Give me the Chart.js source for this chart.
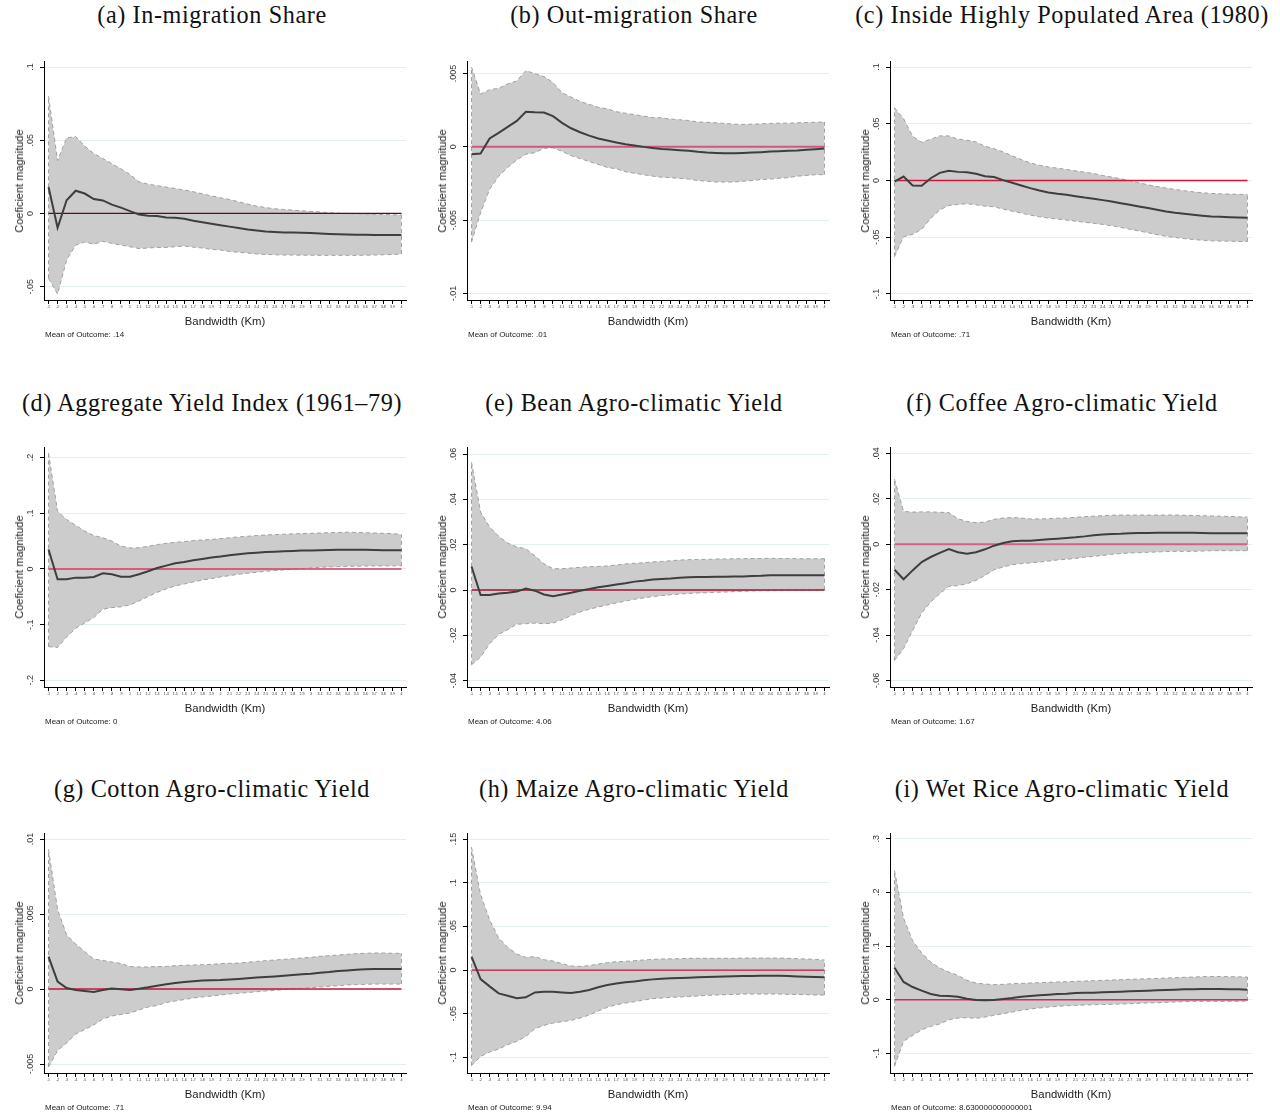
<!DOCTYPE html>
<html>
<head>
<meta charset="utf-8">
<script src="https://cdn.jsdelivr.net/npm/chart.js@4.4.1/dist/chart.umd.min.js"></script>
<style>
  html, body { margin: 0; padding: 0; background: #fff; }
  body { width: 1280px; height: 1115px; position: relative; overflow: hidden; font-family: "Liberation Sans", Arial, sans-serif; color: #000; }
  canvas { position: absolute; }
  .ttl { position: absolute; font-family: "Liberation Serif", "Times New Roman", serif; font-size: 24.2px; letter-spacing: 0.6px; white-space: nowrap; transform: translate(-50%, -50%); color: #111; }
  .xt { position: absolute; font-size: 11.3px; white-space: nowrap; transform: translate(-50%, -50%); color: #222; }
  .yt { position: absolute; font-size: 11px; white-space: nowrap; transform: translate(-50%, -50%) rotate(-90deg); color: #222; }
  .note { position: absolute; font-size: 8px; white-space: nowrap; transform: translateY(-50%); color: #222; }
</style>
</head>
<body>
<script>
// ---------------- DATA ----------------
const bandwidthLabels = ['.1','.2','.3','.4','.5','.6','.7','.8','.9','1',
  '1.1','1.2','1.3','1.4','1.5','1.6','1.7','1.8','1.9','2',
  '2.1','2.2','2.3','2.4','2.5','2.6','2.7','2.8','2.9','3',
  '3.1','3.2','3.3','3.4','3.5','3.6','3.7','3.8','3.9','4'];

const panelTitles = ['(a) In-migration Share', '(b) Out-migration Share', '(c) Inside Highly Populated Area (1980)',
  '(d) Aggregate Yield Index (1961\u201379)', '(e) Bean Agro-climatic Yield', '(f) Coffee Agro-climatic Yield',
  '(g) Cotton Agro-climatic Yield', '(h) Maize Agro-climatic Yield', '(i) Wet Rice Agro-climatic Yield'];

const outcomeMeans = ['.14', '.01', '.71', '0', '4.06', '1.67', '.71', '9.94', '8.630000000000001'];

const xAxisTitle = 'Bandwidth (Km)';
const yAxisTitle = 'Coeficient magnitude';

// (a) In-migration Share
const meanA  = [0.018,-0.0098,0.009,0.0155,0.0136,0.0098,0.0089,0.006,0.004,0.0016,-0.0007,-0.0016,-0.0018,-0.0027,-0.003,-0.0036,-0.005,-0.006,-0.007,-0.008,-0.009,-0.010,-0.011,-0.0116,-0.0123,-0.0127,-0.013,-0.013,-0.0132,-0.0134,-0.0137,-0.014,-0.0142,-0.0144,-0.0145,-0.0146,-0.0147,-0.0147,-0.0148,-0.0148];
const upperA = [0.08,0.036,0.0516,0.0525,0.046,0.041,0.0375,0.034,0.0305,0.0266,0.0216,0.020,0.019,0.018,0.017,0.016,0.0148,0.0134,0.012,0.0107,0.0095,0.008,0.0064,0.005,0.004,0.0032,0.0027,0.0023,0.0018,0.0014,0.001,0.0005,0.0002,0,-0.0002,-0.0004,-0.0006,-0.0007,-0.0009,-0.001];
const lowerA = [-0.0443,-0.055,-0.0318,-0.0216,-0.0195,-0.021,-0.019,-0.0205,-0.0216,-0.0227,-0.024,-0.0236,-0.0232,-0.0232,-0.0227,-0.0223,-0.023,-0.0236,-0.0245,-0.025,-0.026,-0.0265,-0.027,-0.0277,-0.028,-0.0282,-0.0284,-0.0284,-0.0285,-0.0285,-0.0286,-0.0286,-0.0286,-0.0286,-0.0286,-0.0285,-0.0284,-0.0282,-0.028,-0.0277];
const yTicksA = [-0.05, 0, 0.05, 0.1];
const yTickLabelsA = ['-.05', '0', '.05', '.1'];

// (b) Out-migration Share
const meanB  = [-0.0005,-0.00045,0.00057,0.00095,0.00136,0.00177,0.0024,0.00236,0.00234,0.0021,0.00164,0.00127,0.001,0.00077,0.00057,0.00043,0.0003,0.00018,0.0001,0,-0.00007,-0.00014,-0.00018,-0.00023,-0.00027,-0.00034,-0.00039,-0.00041,-0.00043,-0.00043,-0.00041,-0.00039,-0.00036,-0.00032,-0.0003,-0.00027,-0.00025,-0.0002,-0.00016,-0.00011];
const upperB = [0.00545,0.0036,0.0039,0.004,0.0043,0.0045,0.0052,0.005,0.0048,0.0044,0.0037,0.0034,0.0031,0.0029,0.0027,0.0026,0.0024,0.0023,0.0022,0.0021,0.002,0.00198,0.0019,0.00185,0.0018,0.0017,0.00168,0.00164,0.0016,0.00155,0.00153,0.00155,0.00157,0.0016,0.00162,0.00162,0.00164,0.00166,0.00168,0.0017];
const lowerB = [-0.0065,-0.0045,-0.0029,-0.002,-0.0014,-0.0009,-0.0005,-0.0004,-0.0001,-0.00007,-0.0003,-0.0006,-0.0008,-0.001,-0.0012,-0.0014,-0.0015,-0.0017,-0.0018,-0.0019,-0.002,-0.00207,-0.0021,-0.00215,-0.0022,-0.0023,-0.00234,-0.0024,-0.0024,-0.0024,-0.00234,-0.0023,-0.00223,-0.0022,-0.00214,-0.0021,-0.002,-0.00195,-0.0019,-0.0019];
const yTicksB = [-0.01, -0.005, 0, 0.005];
const yTickLabelsB = ['-.01', '-.005', '0', '.005'];

// (c) Inside Highly Populated Area (1980)
const meanC  = [-0.001,0.0035,-0.0044,-0.0047,0.002,0.0067,0.0085,0.0076,0.0073,0.006,0.0038,0.003,0.0003,-0.002,-0.0044,-0.0067,-0.0088,-0.0106,-0.0117,-0.0126,-0.0138,-0.015,-0.016,-0.0173,-0.0185,-0.02,-0.0214,-0.0229,-0.0243,-0.0258,-0.0273,-0.0284,-0.0293,-0.0302,-0.031,-0.0317,-0.032,-0.0323,-0.0326,-0.0328];
const upperC = [0.064,0.0545,0.039,0.0337,0.0364,0.0393,0.0393,0.0364,0.0355,0.034,0.0302,0.028,0.0252,0.0217,0.0185,0.0155,0.0135,0.012,0.0109,0.0097,0.0085,0.0073,0.0062,0.0044,0.003,0.0015,0,-0.002,-0.0038,-0.0053,-0.0067,-0.0079,-0.009,-0.01,-0.0108,-0.0114,-0.0117,-0.012,-0.0122,-0.0123];
const lowerC = [-0.067,-0.0495,-0.0475,-0.043,-0.0334,-0.026,-0.022,-0.0211,-0.0205,-0.0214,-0.0226,-0.0232,-0.0252,-0.027,-0.0287,-0.0305,-0.032,-0.0331,-0.034,-0.0349,-0.0358,-0.0367,-0.0378,-0.0387,-0.0399,-0.0413,-0.043,-0.0445,-0.046,-0.0477,-0.0491,-0.0502,-0.0512,-0.052,-0.0526,-0.0532,-0.0534,-0.0535,-0.0537,-0.0538];
const yTicksC = [-0.1, -0.05, 0, 0.05, 0.1];
const yTickLabelsC = ['-.1', '-.05', '0', '.05', '.1'];

// (d) Aggregate Yield Index (1961-79)
const meanD  = [0.035,-0.0186,-0.0186,-0.0156,-0.0156,-0.0144,-0.0078,-0.0096,-0.0138,-0.0138,-0.0096,-0.0042,0.0018,0.006,0.0102,0.0126,0.0156,0.018,0.0204,0.0222,0.0246,0.0263,0.028,0.0293,0.0305,0.031,0.0317,0.0323,0.033,0.0332,0.0335,0.034,0.0343,0.0347,0.0347,0.0344,0.034,0.0338,0.0335,0.0335];
const upperD = [0.208,0.1036,0.0886,0.0784,0.068,0.06,0.056,0.05,0.041,0.0377,0.038,0.0407,0.0437,0.046,0.048,0.049,0.051,0.052,0.053,0.0545,0.056,0.0575,0.0587,0.06,0.061,0.0617,0.0623,0.063,0.0635,0.064,0.0645,0.065,0.0655,0.0659,0.0656,0.065,0.0645,0.064,0.0635,0.0617];
const lowerD = [-0.1395,-0.141,-0.122,-0.1066,-0.097,-0.0874,-0.0724,-0.0695,-0.068,-0.0647,-0.0575,-0.0497,-0.042,-0.036,-0.0305,-0.027,-0.0234,-0.0198,-0.0174,-0.0144,-0.012,-0.0096,-0.0078,-0.006,-0.0042,-0.003,-0.0018,-0.0006,0.0006,0.0018,0.003,0.0036,0.0042,0.0048,0.005,0.0052,0.0054,0.0055,0.0056,0.0056];
const yTicksD = [-0.2, -0.1, 0, 0.1, 0.2];
const yTickLabelsD = ['-.2', '-.1', '0', '.1', '.2'];

// (e) Bean Agro-climatic Yield
const meanE  = [0.0104,-0.0022,-0.0022,-0.0015,-0.0012,-0.0007,0.0006,-0.0003,-0.002,-0.0028,-0.002,-0.0012,-0.0003,0.0004,0.0012,0.0018,0.0024,0.003,0.0037,0.0041,0.0046,0.0049,0.0051,0.0054,0.0056,0.0057,0.0057,0.0059,0.0059,0.006,0.006,0.0062,0.0063,0.0065,0.0065,0.0065,0.0065,0.0065,0.0065,0.0065];
const upperE = [0.0563,0.0344,0.0278,0.0237,0.0207,0.019,0.0182,0.0151,0.0116,0.0094,0.0094,0.0097,0.01,0.0103,0.0104,0.0106,0.011,0.0115,0.0118,0.012,0.0124,0.0126,0.0129,0.0132,0.0134,0.0135,0.0135,0.0137,0.0137,0.0138,0.0138,0.0139,0.0139,0.014,0.0139,0.0139,0.0138,0.0138,0.0138,0.0138];
const lowerE = [-0.033,-0.0296,-0.0237,-0.0196,-0.0175,-0.0151,-0.0149,-0.0146,-0.0149,-0.0146,-0.0131,-0.0113,-0.0097,-0.0085,-0.0075,-0.0066,-0.0057,-0.0049,-0.0041,-0.0035,-0.0029,-0.0025,-0.0021,-0.0018,-0.0015,-0.0013,-0.0012,-0.001,-0.0009,-0.0007,-0.0006,-0.0004,-0.0003,-0.0003,-0.0002,-0.0001,0,0,0,0.0001];
const yTicksE = [-0.04, -0.02, 0, 0.02, 0.04, 0.06];
const yTickLabelsE = ['-.04', '-.02', '0', '.02', '.04', '.06'];

// (f) Coffee Agro-climatic Yield
const meanF  = [-0.0112,-0.0154,-0.0115,-0.0078,-0.0056,-0.0038,-0.0021,-0.0035,-0.0041,-0.0035,-0.0022,-0.0006,0.0006,0.0013,0.0016,0.0016,0.0019,0.0022,0.0025,0.0028,0.0031,0.0035,0.004,0.0043,0.0046,0.0047,0.0049,0.005,0.005,0.0051,0.0051,0.0051,0.0051,0.0051,0.005,0.0049,0.0049,0.0049,0.0049,0.0049];
const upperF = [0.0287,0.0145,0.0142,0.0143,0.0143,0.0141,0.014,0.0113,0.0101,0.0095,0.0098,0.011,0.0116,0.0118,0.0116,0.0112,0.0112,0.0113,0.0115,0.0116,0.0119,0.0122,0.0124,0.0126,0.0128,0.0129,0.0129,0.0129,0.0129,0.0129,0.0129,0.0129,0.0128,0.0127,0.0126,0.0125,0.0124,0.0123,0.0121,0.012];
const lowerF = [-0.0512,-0.046,-0.038,-0.0303,-0.0254,-0.0218,-0.0185,-0.0182,-0.0174,-0.0159,-0.0137,-0.0112,-0.01,-0.009,-0.0085,-0.0082,-0.0078,-0.0074,-0.0069,-0.0066,-0.0062,-0.0057,-0.0053,-0.0049,-0.0044,-0.0041,-0.0038,-0.0037,-0.0035,-0.0034,-0.0032,-0.0031,-0.0031,-0.0031,-0.003,-0.0028,-0.0028,-0.0028,-0.0028,-0.0028];
const yTicksF = [-0.06, -0.04, -0.02, 0, 0.02, 0.04];
const yTickLabelsF = ['-.06', '-.04', '-.02', '0', '.02', '.04'];

// (g) Cotton Agro-climatic Yield
const meanG  = [0.00216,0.00049,0.00007,-0.00007,-0.00013,-0.0002,-0.00007,0.00004,-0.00002,-0.00007,0.00002,0.00011,0.00022,0.00031,0.0004,0.00047,0.00051,0.00056,0.00058,0.0006,0.00064,0.00067,0.00071,0.00076,0.0008,0.00084,0.00089,0.00093,0.00098,0.00102,0.00109,0.00113,0.0012,0.00124,0.00129,0.00131,0.00133,0.00133,0.00133,0.00133];
const upperG = [0.0093,0.0053,0.0036,0.003,0.0025,0.002,0.0019,0.0018,0.0017,0.0015,0.00147,0.00147,0.0015,0.0015,0.00156,0.00158,0.0016,0.00162,0.00164,0.00169,0.00171,0.00173,0.00178,0.00184,0.00189,0.00193,0.00198,0.00202,0.00207,0.00211,0.00218,0.00222,0.00227,0.00231,0.00236,0.00238,0.0024,0.0024,0.00238,0.00238];
const lowerG = [-0.0052,-0.0041,-0.0036,-0.003,-0.0027,-0.0024,-0.002,-0.0018,-0.0017,-0.0016,-0.0014,-0.0012,-0.0011,-0.0009,-0.0008,-0.0007,-0.0006,-0.00053,-0.00047,-0.0004,-0.00033,-0.00029,-0.00024,-0.00018,-0.00013,-0.00009,-0.00004,0,0.00004,0.00009,0.00013,0.00018,0.00022,0.00027,0.00029,0.00031,0.00033,0.00033,0.00033,0.00033];
const yTicksG = [-0.005, 0, 0.005, 0.01];
const yTickLabelsG = ['-.005', '0', '.005', '.01'];

// (h) Maize Agro-climatic Yield
const meanH  = [0.0153,-0.0103,-0.0187,-0.0267,-0.0294,-0.0324,-0.0313,-0.0256,-0.0248,-0.0248,-0.0256,-0.0263,-0.0248,-0.0229,-0.0198,-0.0172,-0.0153,-0.0141,-0.013,-0.0118,-0.0107,-0.0099,-0.0095,-0.0092,-0.0088,-0.0084,-0.008,-0.0076,-0.0073,-0.0071,-0.0069,-0.0067,-0.0065,-0.0065,-0.0065,-0.0069,-0.0073,-0.0076,-0.008,-0.0084];
const upperH = [0.1405,0.0863,0.0576,0.0366,0.026,0.0183,0.0145,0.0153,0.0118,0.0103,0.0073,0.0046,0.0042,0.005,0.0069,0.0084,0.0095,0.0099,0.0107,0.0115,0.0122,0.0126,0.0128,0.013,0.0134,0.0134,0.0134,0.0134,0.0134,0.0134,0.0137,0.0137,0.0137,0.0137,0.0137,0.0134,0.013,0.0126,0.0122,0.0115];
const lowerH = [-0.1095,-0.0989,-0.0939,-0.0905,-0.0855,-0.0817,-0.076,-0.0672,-0.0634,-0.0607,-0.0592,-0.0576,-0.055,-0.0515,-0.047,-0.0427,-0.0397,-0.0378,-0.0363,-0.0344,-0.0328,-0.0321,-0.0313,-0.0309,-0.0302,-0.0298,-0.029,-0.0286,-0.0282,-0.0279,-0.0275,-0.0275,-0.0275,-0.0275,-0.0275,-0.0279,-0.0279,-0.0282,-0.0286,-0.0286];
const yTicksH = [-0.1, -0.05, 0, 0.05, 0.1, 0.15];
const yTickLabelsH = ['-.1', '-.05', '0', '.05', '.1', '.15'];

// (i) Wet Rice Agro-climatic Yield
const meanI  = [0.0596,0.033,0.0236,0.0168,0.0106,0.0075,0.0068,0.0056,0.0019,-0.0006,-0.0012,-0.0006,0.0012,0.0031,0.0056,0.0068,0.0081,0.0093,0.0106,0.0112,0.0124,0.013,0.013,0.0137,0.0143,0.0149,0.0155,0.0161,0.0168,0.0174,0.018,0.0186,0.0193,0.0196,0.0199,0.0199,0.0199,0.0196,0.0193,0.0186];
const upperI = [0.2404,0.152,0.11,0.087,0.0702,0.059,0.0516,0.0453,0.036,0.031,0.0292,0.028,0.0286,0.0298,0.0304,0.031,0.0317,0.0323,0.033,0.0335,0.0342,0.0348,0.0354,0.036,0.0366,0.0373,0.0379,0.0385,0.039,0.0397,0.0404,0.041,0.0416,0.0422,0.0429,0.0432,0.0432,0.0429,0.0426,0.0422];
const lowerI = [-0.124,-0.0776,-0.0665,-0.056,-0.0497,-0.0453,-0.0373,-0.0342,-0.0335,-0.0348,-0.0323,-0.0292,-0.026,-0.023,-0.0199,-0.0174,-0.0155,-0.0137,-0.0124,-0.0112,-0.0106,-0.0099,-0.0093,-0.009,-0.0087,-0.0081,-0.0075,-0.0068,-0.0062,-0.0056,-0.005,-0.0043,-0.0037,-0.0031,-0.0031,-0.0031,-0.0031,-0.0031,-0.0031,-0.0025];
const yTicksI = [-0.1, 0, 0.1, 0.2, 0.3];
const yTickLabelsI = ['-.1', '0', '.1', '.2', '.3'];

// axis ranges (y)
const yRangeA = [-0.0591, 0.1041];
const yRangeB = [-0.01045, 0.00586];
const yRangeC = [-0.1053, 0.1053];
const yRangeD = [-0.212, 0.219];
const yRangeE = [-0.0428, 0.0631];
const yRangeF = [-0.0629, 0.0429];
const yRangeG = [-0.0056, 0.0104];
const yRangeH = [-0.1179, 0.1569];
const yRangeI = [-0.1366, 0.3106];

// reference line at zero
const zeroLine = bandwidthLabels.map(() => 0);

// ---------------- LAYOUT / STYLE ----------------
const panels = [
  { mean: meanA, upper: upperA, lower: lowerA, ticks: yTicksA, tickLabels: yTickLabelsA, range: yRangeA },
  { mean: meanB, upper: upperB, lower: lowerB, ticks: yTicksB, tickLabels: yTickLabelsB, range: yRangeB },
  { mean: meanC, upper: upperC, lower: lowerC, ticks: yTicksC, tickLabels: yTickLabelsC, range: yRangeC },
  { mean: meanD, upper: upperD, lower: lowerD, ticks: yTicksD, tickLabels: yTickLabelsD, range: yRangeD },
  { mean: meanE, upper: upperE, lower: lowerE, ticks: yTicksE, tickLabels: yTickLabelsE, range: yRangeE },
  { mean: meanF, upper: upperF, lower: lowerF, ticks: yTicksF, tickLabels: yTickLabelsF, range: yRangeF },
  { mean: meanG, upper: upperG, lower: lowerG, ticks: yTicksG, tickLabels: yTickLabelsG, range: yRangeG },
  { mean: meanH, upper: upperH, lower: lowerH, ticks: yTicksH, tickLabels: yTickLabelsH, range: yRangeH },
  { mean: meanI, upper: upperI, lower: lowerI, ticks: yTicksI, tickLabels: yTickLabelsI, range: yRangeI }
];
const zeroStyles = [
  { color: '#5a0f1e', width: 1.3 }, { color: '#d0587a', width: 2 }, { color: '#d2143c', width: 1.3 },
  { color: '#d93a63', width: 1.5 }, { color: '#a8122e', width: 1.3 }, { color: '#cf6383', width: 2 },
  { color: '#c4143a', width: 1.3 }, { color: '#c8103c', width: 1.3 }, { color: '#d4285a', width: 1.4 }
];
const colPlotLeft = [44, 467, 890];
const plotW = 362;
const rowPlotTop = [61, 447, 833];
const rowPlotH = [239, 240, 240];
const titleX = [212, 634, 1062];
const titleY = [15, 403, 789];

const Y_AXIS_W = 44, PAD_TOP = 8, PAD_RIGHT = 6, X_AXIS_H = 16;

const yLabelPlugin = {
  id: 'yLabels',
  afterDraw(chart, args, opts) {
    const s = chart.scales.y;
    const ctx = chart.ctx;
    ctx.save();
    ctx.font = '9px "Liberation Sans", Arial, sans-serif';
    ctx.fillStyle = '#333';
    ctx.textAlign = 'center';
    ctx.textBaseline = 'middle';
    opts.values.forEach((v, k) => {
      const y = s.getPixelForValue(v);
      ctx.save();
      ctx.translate(s.right - 13.4, y);
      ctx.rotate(-Math.PI / 2);
      ctx.fillText(opts.labels[k], 0, 0);
      ctx.restore();
    });
    ctx.restore();
  }
};

function addText(cls, txt, x, y) {
  const d = document.createElement('div');
  d.className = cls;
  d.textContent = txt;
  d.style.left = x + 'px';
  d.style.top = y + 'px';
  document.body.appendChild(d);
}

panels.forEach((p, i) => {
  const col = i % 3, row = Math.floor(i / 3);
  const pl = colPlotLeft[col], pt = rowPlotTop[row], ph = rowPlotH[row];
  const cv = document.createElement('canvas');
  const cw = Y_AXIS_W + plotW + PAD_RIGHT;
  const ch = PAD_TOP + ph + X_AXIS_H;
  cv.width = cw; cv.height = ch;
  cv.style.width = cw + 'px'; cv.style.height = ch + 'px';
  cv.style.left = (pl - Y_AXIS_W) + 'px';
  cv.style.top = (pt - PAD_TOP) + 'px';
  document.body.appendChild(cv);

  const dash = [4, 3];
  const bandLine = '#a0a0a0';
  new Chart(cv.getContext('2d'), {
    type: 'line',
    data: {
      labels: bandwidthLabels,
      datasets: [
        { data: p.mean, borderColor: '#3e3e3e', borderWidth: 2, pointRadius: 0, tension: 0, fill: false },
        { data: zeroLine, borderColor: zeroStyles[i].color, borderWidth: zeroStyles[i].width, pointRadius: 0, fill: false },
        { data: p.upper, borderColor: bandLine, borderWidth: 1, borderDash: dash, pointRadius: 0, tension: 0, fill: '+1', backgroundColor: '#cccccc' },
        { data: p.lower, borderColor: bandLine, borderWidth: 1, borderDash: dash, pointRadius: 0, tension: 0, fill: false },
        { data: [{ x: bandwidthLabels[0], y: p.lower[0] }, { x: bandwidthLabels[0], y: p.upper[0] }],
          borderColor: bandLine, borderWidth: 1, borderDash: dash, pointRadius: 0, fill: false },
        { data: [{ x: bandwidthLabels[39], y: p.lower[39] }, { x: bandwidthLabels[39], y: p.upper[39] }],
          borderColor: bandLine, borderWidth: 1, borderDash: dash, pointRadius: 0, fill: false }
      ]
    },
    options: {
      responsive: false,
      animation: false,
      devicePixelRatio: 1,
      events: [],
      layout: { padding: { left: 0, top: PAD_TOP, right: PAD_RIGHT, bottom: 0 } },
      plugins: {
        legend: { display: false },
        tooltip: { enabled: false },
        filler: { drawTime: 'beforeDatasetsDraw', propagate: false },
        yLabels: { values: p.ticks, labels: p.tickLabels }
      },
      scales: {
        x: {
          type: 'category',
          offset: true,
          border: { display: true, color: '#000', width: 1 },
          grid: { drawOnChartArea: false, drawTicks: true, tickLength: 4, tickColor: '#000', offset: false },
          ticks: { autoSkip: false, maxRotation: 0, minRotation: 0, padding: 1.2, color: '#333',
                   font: { size: 3.6, family: '"Liberation Sans", Arial, sans-serif' } },
          afterFit: (s) => { s.height = X_AXIS_H; }
        },
        y: {
          type: 'linear',
          min: p.range[0], max: p.range[1],
          border: { display: true, color: '#000', width: 1 },
          grid: { color: '#e3eef0', lineWidth: 1, drawTicks: true, tickLength: 4, tickColor: '#000' },
          ticks: { display: false },
          afterBuildTicks: (s) => { s.ticks = p.ticks.map(v => ({ value: v })); },
          afterFit: (s) => { s.width = Y_AXIS_W; }
        }
      }
    },
    plugins: [yLabelPlugin]
  });

  addText('ttl', panelTitles[i], titleX[col], titleY[row]);
  addText('xt', xAxisTitle, pl + plotW / 2, pt + ph + 21);
  addText('yt', yAxisTitle, pl - 25, pt + ph / 2);
  addText('note', 'Mean of Outcome: ' + outcomeMeans[i], pl + 1, pt + ph + 34);
});
</script>
</body>
</html>
